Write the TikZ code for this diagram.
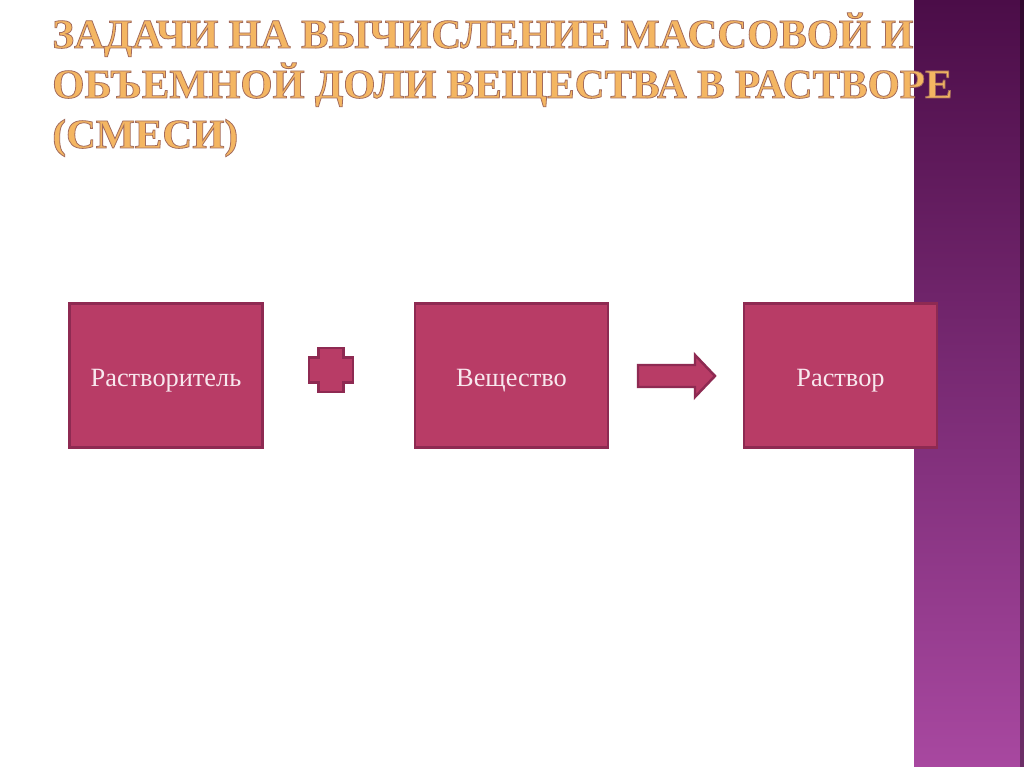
\documentclass[tikz,border=0pt]{standalone}
\usepackage{fontspec}
\setmainfont{Liberation Serif}
\usepackage{xcolor}
\usetikzlibrary{positioning,calc}

\definecolor{boxfill}{HTML}{B83C66}
\definecolor{boxline}{HTML}{8E2A52}
\definecolor{boxtext}{HTML}{F8E8EE}
\definecolor{titleorange}{HTML}{F4B662}
\definecolor{bandtop}{HTML}{4B0D48}
\definecolor{bandbottom}{HTML}{A848A0}

\newcommand{\outlined}[1]{\special{pdf:literal direct 2 Tr 0.45 w 0.64 0.42 0.36 RG}#1\special{pdf:literal direct 0 Tr}}

\tikzset{
    stagebox/.style={draw=boxline, fill=boxfill, line width=1.7pt, minimum width=3.86cm, minimum height=2.88cm, text=boxtext, text height=12pt, text depth=0pt, font=\fontsize{15}{18}\selectfont},
    symbol/.style={draw=boxline, fill=boxfill, line width=1.4pt, line join=miter},
    titleline/.style={anchor=base west, inner sep=0pt, text=titleorange, font=\bfseries\fontsize{23.5}{26}\selectfont}
}

\begin{document}
\begin{tikzpicture}
    \fill[white] (0,0) rectangle (20.48,15.34);
    \useasboundingbox (0,0) rectangle (20.48,15.34);

    % Purple band
    \shade[top color=bandtop, bottom color=bandbottom] (18.28,0) rectangle (20.48,15.34);
    \fill[black, opacity=0.35] (20.40,0) rectangle (20.48,15.34);

    % Title
    \node[titleline] (title1) at (1.04,14.38) {\outlined{ЗАДАЧИ НА ВЫЧИСЛЕНИЕ МАССОВОЙ И}};
    \node[titleline] (title2) at (1.04,13.38) {\outlined{ОБЪЕМНОЙ ДОЛИ ВЕЩЕСТВА В РАСТВОРЕ}};
    \node[titleline] (title3) at (1.04,12.38) {\outlined{(СМЕСИ)}};

    % Boxes
    \node[stagebox] (solvent) at (3.32,7.83) {Растворитель};
    \node[stagebox] (solute) at (10.23,7.83) {Вещество};
    \node[stagebox] (solution) at (16.81,7.83) {Раствор};

    % Plus
    \draw[symbol, shift={(6.62,7.94)}] (-0.25,0.44) -- (0.25,0.44) -- (0.25,0.25) -- (0.44,0.25) -- (0.44,-0.25) -- (0.25,-0.25) -- (0.25,-0.44) -- (-0.25,-0.44) -- (-0.25,-0.25) -- (-0.44,-0.25) -- (-0.44,0.25) -- (-0.25,0.25) -- cycle;

    % Arrow
    \draw[symbol, shift={(13.53,7.82)}] (-0.77,0.22) -- (0.37,0.22) -- (0.37,0.42) -- (0.77,0) -- (0.37,-0.42) -- (0.37,-0.22) -- (-0.77,-0.22) -- cycle;
\end{tikzpicture}
\end{document}
